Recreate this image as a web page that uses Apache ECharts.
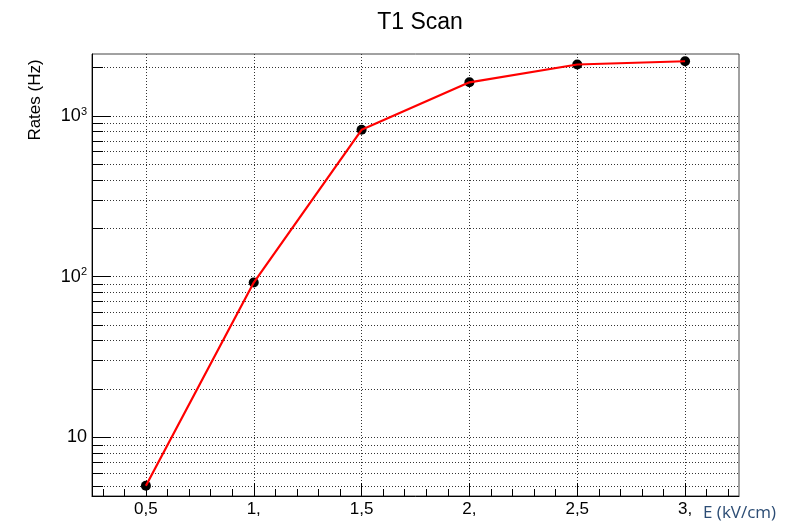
<!DOCTYPE html>
<html>
<head>
<meta charset="utf-8">
<script src="https://cdn.jsdelivr.net/npm/echarts@6/dist/echarts.min.js"></script>
<style>
  html, body { margin: 0; padding: 0; background: #fff; }
  #chart { width: 803px; height: 527px; }
</style>
</head>
<body>
<div id="chart"></div>
<script>
// Measured rates versus drift field
const fieldValues = [0.5, 1.0, 1.5, 2.0, 2.5, 3.0];
const rateValues = [5, 92, 820, 1620, 2090, 2190];

// Axis ticks and labels
const xTickValues = [0.5, 1, 1.5, 2, 2.5, 3];
const xTickLabels = ['0,5', '1,', '1,5', '2,', '2,5', '3,'];
const yTickValues = [10, 100, 1000];
const yTickLabels = ['{b|10}', '{b|10}{s|2}', '{b|10}{s|3}'];
const xRange = [0.25, 3.25];
const yRange = [4.32, 2430];

// Minor tick positions: every 0.1 on x, 2..9 per decade on y
const xMinor = [];
for (let i = 3; i <= 32; i++) {
  if (i % 5 !== 0) xMinor.push(i / 10);
}
const yMinor = [];
for (let d = 1; d <= 1000; d *= 10) {
  for (let m = 2; m <= 9; m++) {
    const v = m * d;
    if (v >= yRange[0] && v <= yRange[1]) yMinor.push(v);
  }
}

const FONT = 'Liberation Sans, Arial, Helvetica, sans-serif';
const gridDots = { color: '#333', width: 1, type: [1, 2] };

const chart = echarts.init(document.getElementById('chart'), null, { renderer: 'canvas' });

chart.setOption({
  animation: false,
  backgroundColor: '#fff',
  grid: {
    left: 92, right: 64, top: 54, bottom: 31,
    show: true, borderColor: '#444', borderWidth: 1, backgroundColor: 'transparent'
  },
  xAxis: [
    {
      type: 'value', min: xRange[0], max: xRange[1], position: 'bottom',
      axisLine: { show: true, onZero: false, lineStyle: { color: '#000', width: 1 } },
      axisTick: { show: true, inside: true, length: 13, customValues: xTickValues, lineStyle: { color: '#000' } },
      axisLabel: {
        show: true, customValues: xTickValues, margin: 5,
        fontFamily: FONT, fontSize: 17, color: '#000',
        formatter: v => xTickLabels[xTickValues.indexOf(Math.round(v * 10) / 10)]
      },
      splitLine: { show: true, lineStyle: gridDots }
    },
    {
      type: 'value', min: xRange[0], max: xRange[1], position: 'bottom',
      axisLine: { show: false },
      axisTick: { show: true, inside: true, length: 7, customValues: xMinor, lineStyle: { color: '#000' } },
      axisLabel: { show: false },
      splitLine: { show: false }
    }
  ],
  yAxis: [
    {
      type: 'log', logBase: 10, min: yRange[0], max: yRange[1], position: 'left',
      axisLine: { show: true, onZero: false, lineStyle: { color: '#000', width: 1 } },
      axisTick: { show: true, inside: true, length: 19, customValues: yTickValues, lineStyle: { color: '#000' } },
      axisLabel: {
        show: true, customValues: yTickValues, margin: 5, color: '#000',
        formatter: v => yTickLabels[yTickValues.indexOf(Math.round(v))],
        rich: {
          b: { fontFamily: FONT, fontSize: 18, lineHeight: 20, color: '#000' },
          s: { fontFamily: FONT, fontSize: 11, lineHeight: 11, verticalAlign: 'top', color: '#000' }
        }
      },
      splitLine: { show: true, lineStyle: gridDots }
    },
    {
      type: 'log', logBase: 10, min: yRange[0], max: yRange[1], position: 'left',
      axisLine: { show: false },
      axisTick: { show: true, inside: true, length: 11, customValues: yMinor, lineStyle: { color: '#000' } },
      axisLabel: { show: false },
      splitLine: { show: true, lineStyle: gridDots }
    }
  ],
  title: {
    text: 'T1 Scan', left: 415, top: 6, textAlign: 'center',
    textStyle: { fontFamily: FONT, fontSize: 23, fontWeight: 'normal', color: '#000' }
  },
  graphic: [
    {
      type: 'text', x: 35, y: 100, rotation: Math.PI / 2,
      style: { text: 'Rates (Hz)', font: '17px ' + FONT, fill: '#000', align: 'center', verticalAlign: 'middle' }
    },
    {
      type: 'text', x: 703, y: 513,
      style: { text: 'E (kV/cm)', font: '17px "Open Sans", sans-serif', fill: '#2b4c74', align: 'left', verticalAlign: 'middle' }
    }
  ],
  series: [
    {
      type: 'scatter', xAxisIndex: 0, yAxisIndex: 0, z: 4,
      symbol: 'circle', symbolSize: 10,
      itemStyle: { color: '#000', opacity: 1 },
      data: fieldValues.map((x, i) => [x, rateValues[i]])
    },
    {
      type: 'line', xAxisIndex: 0, yAxisIndex: 0, z: 5,
      showSymbol: false, symbol: 'none',
      lineStyle: { color: '#ff0000', width: 2.2 },
      data: fieldValues.map((x, i) => [x, rateValues[i]])
    }
  ]
});
</script>
</body>
</html>
